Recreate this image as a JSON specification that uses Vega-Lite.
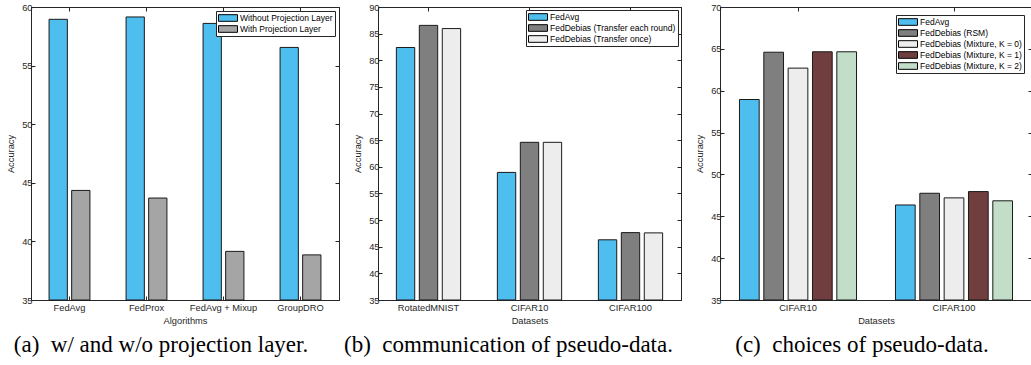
{
  "$schema": "https://vega.github.io/schema/vega-lite/v6.json",
  "padding": {"left": 6, "top": 2, "right": 0, "bottom": 0},
  "datasets": {
    "a": [
      {"algorithm": "FedAvg", "setting": "Without Projection Layer", "accuracy": 58.95},
      {"algorithm": "FedAvg", "setting": "With Projection Layer", "accuracy": 44.35},
      {"algorithm": "FedProx", "setting": "Without Projection Layer", "accuracy": 59.15},
      {"algorithm": "FedProx", "setting": "With Projection Layer", "accuracy": 43.7},
      {"algorithm": "FedAvg + Mixup", "setting": "Without Projection Layer", "accuracy": 58.6},
      {"algorithm": "FedAvg + Mixup", "setting": "With Projection Layer", "accuracy": 39.15},
      {"algorithm": "GroupDRO", "setting": "Without Projection Layer", "accuracy": 56.55},
      {"algorithm": "GroupDRO", "setting": "With Projection Layer", "accuracy": 38.85}
    ],
    "b": [
      {"dataset": "RotatedMNIST", "method": "FedAvg", "accuracy": 82.4},
      {"dataset": "RotatedMNIST", "method": "FedDebias (Transfer each round)", "accuracy": 86.55},
      {"dataset": "RotatedMNIST", "method": "FedDebias (Transfer once)", "accuracy": 85.95},
      {"dataset": "CIFAR10", "method": "FedAvg", "accuracy": 58.95},
      {"dataset": "CIFAR10", "method": "FedDebias (Transfer each round)", "accuracy": 64.6},
      {"dataset": "CIFAR10", "method": "FedDebias (Transfer once)", "accuracy": 64.6},
      {"dataset": "CIFAR100", "method": "FedAvg", "accuracy": 46.3},
      {"dataset": "CIFAR100", "method": "FedDebias (Transfer each round)", "accuracy": 47.65},
      {"dataset": "CIFAR100", "method": "FedDebias (Transfer once)", "accuracy": 47.6}
    ],
    "c": [
      {"dataset": "CIFAR10", "choice": "FedAvg", "accuracy": 58.95},
      {"dataset": "CIFAR10", "choice": "FedDebias (RSM)", "accuracy": 64.6},
      {"dataset": "CIFAR10", "choice": "FedDebias (Mixture, K = 0)", "accuracy": 62.7},
      {"dataset": "CIFAR10", "choice": "FedDebias (Mixture, K = 1)", "accuracy": 64.65},
      {"dataset": "CIFAR10", "choice": "FedDebias (Mixture, K = 2)", "accuracy": 64.65},
      {"dataset": "CIFAR100", "choice": "FedAvg", "accuracy": 46.35},
      {"dataset": "CIFAR100", "choice": "FedDebias (RSM)", "accuracy": 47.75},
      {"dataset": "CIFAR100", "choice": "FedDebias (Mixture, K = 0)", "accuracy": 47.2},
      {"dataset": "CIFAR100", "choice": "FedDebias (Mixture, K = 1)", "accuracy": 47.95},
      {"dataset": "CIFAR100", "choice": "FedDebias (Mixture, K = 2)", "accuracy": 46.85}
    ]
  },
  "spacing": 39,
  "bounds": "flush",
  "resolve": {"scale": {"x": "independent", "y": "independent", "color": "independent", "xOffset": "independent"}, "legend": {"color": "independent"}},
  "hconcat": [
    {
      "width": 308,
      "height": 293,
      "data": {"name": "a"},
      "title": {"text": "(a)\u00a0 w/ and w/o projection layer.", "orient": "bottom", "dx": -24, "offset": 8, "font": "Liberation Serif, DejaVu Serif, serif", "fontSize": 23, "fontWeight": "normal", "color": "#000000"},
      "layer": [
        {
          "mark": {"type": "bar", "stroke": "#1a1a1a", "strokeWidth": 1},
          "encoding": {
            "x": {"field": "algorithm", "type": "nominal", "sort": ["FedAvg", "FedProx", "FedAvg + Mixup", "GroupDRO"], "scale": {"paddingInner": 0, "paddingOuter": 0}, "axis": {"orient": "bottom", "title": "Algorithms", "labelAngle": 0}},
            "xOffset": {"field": "setting", "type": "nominal", "sort": ["Without Projection Layer", "With Projection Layer"], "scale": {"paddingInner": 0.19, "paddingOuter": 0.8}},
            "y": {"field": "accuracy", "type": "quantitative", "scale": {"domain": [35, 60], "zero": false, "nice": false}, "axis": {"orient": "left", "title": "Accuracy", "values": [35, 40, 45, 50, 55, 60]}},
            "y2": {"datum": 35},
            "color": {"field": "setting", "type": "nominal", "scale": {"domain": ["Without Projection Layer", "With Projection Layer"], "range": ["#4DBEEE", "#A5A5A5"]}, "legend": {"orient": "top-right", "offset": 4}}
          }
        },
        {
          "mark": {"type": "bar", "opacity": 0},
          "encoding": {
            "x": {"field": "algorithm", "type": "nominal", "sort": ["FedAvg", "FedProx", "FedAvg + Mixup", "GroupDRO"], "axis": {"orient": "top", "title": null, "labels": false}},
            "xOffset": {"field": "setting", "type": "nominal", "sort": ["Without Projection Layer", "With Projection Layer"]},
            "y": {"field": "accuracy", "type": "quantitative", "axis": {"orient": "right", "title": null, "labels": false, "values": [35, 40, 45, 50, 55, 60]}},
            "y2": {"datum": 35}
          }
        }
      ],
      "resolve": {"axis": {"x": "independent", "y": "independent"}}
    },
    {
      "width": 303,
      "height": 293,
      "data": {"name": "b"},
      "title": {"text": "(b)\u00a0 communication of pseudo-data.", "orient": "bottom", "dx": -21, "offset": 8, "font": "Liberation Serif, DejaVu Serif, serif", "fontSize": 23, "fontWeight": "normal", "color": "#000000"},
      "layer": [
        {
          "mark": {"type": "bar", "stroke": "#1a1a1a", "strokeWidth": 1},
          "encoding": {
            "x": {"field": "dataset", "type": "nominal", "sort": ["RotatedMNIST", "CIFAR10", "CIFAR100"], "scale": {"paddingInner": 0, "paddingOuter": 0}, "axis": {"orient": "bottom", "title": "Datasets", "labelAngle": 0}},
            "xOffset": {"field": "method", "type": "nominal", "sort": ["FedAvg", "FedDebias (Transfer each round)", "FedDebias (Transfer once)"], "scale": {"paddingInner": 0.2, "paddingOuter": 0.8}},
            "y": {"field": "accuracy", "type": "quantitative", "scale": {"domain": [35, 90], "zero": false, "nice": false}, "axis": {"orient": "left", "title": "Accuracy", "values": [35, 40, 45, 50, 55, 60, 65, 70, 75, 80, 85, 90]}},
            "y2": {"datum": 35},
            "color": {"field": "method", "type": "nominal", "scale": {"domain": ["FedAvg", "FedDebias (Transfer each round)", "FedDebias (Transfer once)"], "range": ["#4DBEEE", "#7F7F7F", "#EDEDED"]}, "legend": {"orient": "top-right", "offset": 3}}
          }
        },
        {
          "mark": {"type": "bar", "opacity": 0},
          "encoding": {
            "x": {"field": "dataset", "type": "nominal", "sort": ["RotatedMNIST", "CIFAR10", "CIFAR100"], "axis": {"orient": "top", "title": null, "labels": false}},
            "xOffset": {"field": "method", "type": "nominal", "sort": ["FedAvg", "FedDebias (Transfer each round)", "FedDebias (Transfer once)"]},
            "y": {"field": "accuracy", "type": "quantitative", "axis": {"orient": "right", "title": null, "labels": false, "values": [35, 40, 45, 50, 55, 60, 65, 70, 75, 80, 85, 90]}},
            "y2": {"datum": 35}
          }
        }
      ],
      "resolve": {"axis": {"x": "independent", "y": "independent"}}
    },
    {
      "width": 312,
      "height": 293,
      "data": {"name": "c"},
      "title": {"text": "(c)\u00a0 choices of pseudo-data.", "orient": "bottom", "dx": -14, "offset": 8, "font": "Liberation Serif, DejaVu Serif, serif", "fontSize": 23, "fontWeight": "normal", "color": "#000000"},
      "layer": [
        {
          "mark": {"type": "bar", "stroke": "#1a1a1a", "strokeWidth": 1},
          "encoding": {
            "x": {"field": "dataset", "type": "nominal", "sort": ["CIFAR10", "CIFAR100"], "scale": {"paddingInner": 0, "paddingOuter": 0}, "axis": {"orient": "bottom", "title": "Datasets", "labelAngle": 0}},
            "xOffset": {"field": "choice", "type": "nominal", "sort": ["FedAvg", "FedDebias (RSM)", "FedDebias (Mixture, K = 0)", "FedDebias (Mixture, K = 1)", "FedDebias (Mixture, K = 2)"], "scale": {"paddingInner": 0.19, "paddingOuter": 0.8}},
            "y": {"field": "accuracy", "type": "quantitative", "scale": {"domain": [35, 70], "zero": false, "nice": false}, "axis": {"orient": "left", "title": "Accuracy", "values": [35, 40, 45, 50, 55, 60, 65, 70]}},
            "y2": {"datum": 35},
            "color": {"field": "choice", "type": "nominal", "scale": {"domain": ["FedAvg", "FedDebias (RSM)", "FedDebias (Mixture, K = 0)", "FedDebias (Mixture, K = 1)", "FedDebias (Mixture, K = 2)"], "range": ["#4DBEEE", "#7F7F7F", "#EDEDED", "#703E3E", "#C3DEC8"]}, "legend": {"orient": "top-right", "offset": 8}}
          }
        },
        {
          "mark": {"type": "bar", "opacity": 0},
          "encoding": {
            "x": {"field": "dataset", "type": "nominal", "sort": ["CIFAR10", "CIFAR100"], "axis": {"orient": "top", "title": null, "labels": false}},
            "xOffset": {"field": "choice", "type": "nominal", "sort": ["FedAvg", "FedDebias (RSM)", "FedDebias (Mixture, K = 0)", "FedDebias (Mixture, K = 1)", "FedDebias (Mixture, K = 2)"]},
            "y": {"field": "accuracy", "type": "quantitative", "axis": {"orient": "right", "title": null, "labels": false, "values": [35, 40, 45, 50, 55, 60, 65, 70]}},
            "y2": {"datum": 35}
          }
        }
      ],
      "resolve": {"axis": {"x": "independent", "y": "independent"}}
    }
  ],
  "config": {
    "view": {"stroke": "#262626", "strokeWidth": 1},
    "axis": {
      "grid": false,
      "domainColor": "#262626",
      "tickColor": "#262626",
      "tickSize": -4,
      "labelColor": "#262626",
      "titleColor": "#262626",
      "labelFont": "Liberation Sans",
      "titleFont": "Liberation Sans",
      "labelFontSize": 9.3,
      "titleFontSize": 9.3,
      "titleFontWeight": "normal"
    },
    "axisX": {"titlePadding": 4, "labelPadding": 7},
    "axisY": {"titlePadding": 6, "labelPadding": 3},
    "legend": {
      "title": null,
      "strokeColor": "#262626",
      "fillColor": "white",
      "padding": 2,
      "labelFont": "Liberation Sans",
      "labelFontSize": 8.5,
      "labelColor": "#000000",
      "labelOffset": 2,
      "labelLimit": 0,
      "symbolType": "M-1,-0.35H1V0.35H-1Z",
      "symbolSize": 361,
      "symbolStrokeColor": "#000000",
      "symbolStrokeWidth": 1,
      "symbolOpacity": 1,
      "clipHeight": 10,
      "rowPadding": 1
    }
  }
}
